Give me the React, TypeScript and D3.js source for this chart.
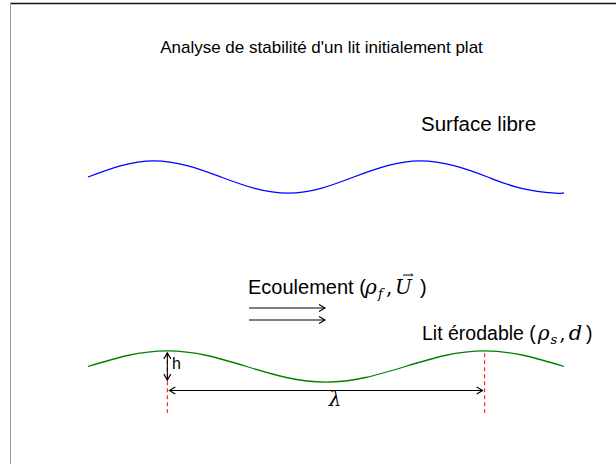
import React from "react";
import * as d3 from "d3";

const W = 616;
const H = 464;

// Free surface (blue) — x in abstract units, y elevation
const surfaceX = [0, 1.68, 3.3, 5.0, 6.7, 8.4, 10.1, 11.75, 13.4, 15.1, 16.75, 18.45, 20.15, 21.85, 23.55, 24];
const surfaceY = [10, 10.6, 10.85, 10.6, 10, 9.4, 9.15, 9.4, 10, 10.6, 10.85, 10.6, 10, 9.4, 9.15, 9.16];

// Erodible bed (green)
const bedX = [0, 2, 4, 6, 8, 10, 12, 14, 16, 18, 20, 22, 24];
const bedY = [0, 0.58, 0.82, 0.58, 0, -0.58, -0.82, -0.58, 0, 0.58, 0.82, 0.58, 0];

// annotations
const crestX = [4, 20];
const hRange = [0.72, -0.72];
const dashBottom = -2.45;
const lambdaY = -1.27;
const flowArrowsY = [3.09, 2.45];
const flowArrowX = [8.12, 11.95];

const TITLE = "Analyse de stabilité d'un lit initialement plat";

export default function App() {
  const x = d3.scaleLinear().domain([0, 24]).range([88, 564]);
  const y = d3.scaleLinear().domain([0, 10]).range([366.5, 177]);

  const line = d3
    .line<[number, number]>()
    .x((d) => x(d[0]))
    .y((d) => y(d[1]))
    .curve(d3.curveNatural);

  const surface = surfaceX.map((v, i) => [v, surfaceY[i]] as [number, number]);
  const bed = bedX.map((v, i) => [v, bedY[i]] as [number, number]);

  const sans = "'Liberation Sans', Arial, sans-serif";
  const serif = "'DejaVu Serif', 'Liberation Serif', serif";
  const mathSize = 20;

  return (
    <svg
      width={W}
      height={H}
      style={{ position: "absolute", left: 0, top: 0, background: "#fff" }}
    >
      <defs>
        <marker id="ah" viewBox="-8 -5 10 10" refX="0" refY="0" markerWidth="10" markerHeight="10" markerUnits="userSpaceOnUse" orient="auto-start-reverse">
          <path d="M-6,-3.5 L0,0 L-6,3.5" fill="none" stroke="#000" strokeWidth={1.1} />
        </marker>
        <marker id="ahs" viewBox="-8 -5 10 10" refX="0" refY="0" markerWidth="6" markerHeight="6" markerUnits="userSpaceOnUse" orient="auto">
          <path d="M-3.5,-2.2 L0,0 L-3.5,2.2" fill="none" stroke="#000" strokeWidth={1} />
        </marker>
      </defs>
      {/* frame */}
      <line x1={10} x2={W} y1={3.5} y2={3.5} stroke="#111" strokeWidth={1.3} />
      <line x1={10.5} x2={10.5} y1={3} y2={H} stroke="#999" strokeWidth={1} />

      <text x={321.5} y={52.5} textAnchor="middle" fontFamily={sans} fontSize={17} fill="#000">
        {TITLE}
      </text>

      <path d={line(surface) || ""} fill="none" stroke="#0000ff" strokeWidth={1.3} />
      <path d={line(bed) || ""} fill="none" stroke="#008000" strokeWidth={1.3} />

      <text x={421} y={131} fontFamily={sans} fontSize={20.5} fill="#000">
        Surface libre
      </text>

      {/* Ecoulement (rho_f, U) */}
      <g fill="#000">
        <text x={248} y={294} fontFamily={sans} fontSize={20}>Ecoulement (</text>
        <text x={365} y={294} fontFamily={serif} fontStyle="italic" fontSize={mathSize}>ρ</text>
        <text x={378} y={298} fontFamily={serif} fontStyle="italic" fontSize={13}>f</text>
        <text x={386} y={294} fontFamily={serif} fontSize={mathSize}>,</text>
        <text x={395} y={294} fontFamily={serif} fontStyle="italic" fontSize={mathSize}>U</text>
        <line x1={403} x2={413} y1={275} y2={275} stroke="#000" strokeWidth={1} markerEnd="url(#ahs)" />
        <text x={420} y={294} fontFamily={sans} fontSize={20}>)</text>
      </g>

      {flowArrowsY.map((fy, i) => (
        <line key={i} x1={x(flowArrowX[0])} x2={x(flowArrowX[1])} y1={y(fy)} y2={y(fy)} stroke="#000" strokeWidth={1.1} markerEnd="url(#ah)" />
      ))}

      {/* Lit erodable (rho_s, d) */}
      <text x={422} y={340} fontFamily={sans} fontSize={19.5} fill="#000">
        Lit érodable (
        <tspan fontFamily={serif} fontStyle="italic" fontSize={mathSize} dx={2}>ρ</tspan>
        <tspan fontFamily={serif} fontStyle="italic" fontSize={13} dy={4} dx={1}>s</tspan>
        <tspan fontFamily={serif} fontSize={mathSize} dy={-4} dx={2}>,</tspan>
        <tspan fontFamily={serif} fontStyle="italic" fontSize={21} dx={3}>d</tspan>
        <tspan dx={4}>)</tspan>
      </text>

      {crestX.map((cx, i) => (
        <line key={i} x1={x(cx)} x2={x(cx)} y1={y(0.7)} y2={y(dashBottom)} stroke="#ff0000" strokeWidth={1} strokeDasharray="4,3" />
      ))}

      <line x1={x(crestX[0])} x2={x(crestX[0])} y1={y(hRange[0])} y2={y(hRange[1])} stroke="#000" strokeWidth={1.1} markerStart="url(#ah)" markerEnd="url(#ah)" />
      <text x={172} y={369} fontFamily={sans} fontSize={16} fill="#000">h</text>

      <line x1={x(crestX[0]) + 2} x2={x(crestX[1]) - 2} y1={y(lambdaY)} y2={y(lambdaY)} stroke="#000" strokeWidth={1.1} markerStart="url(#ah)" markerEnd="url(#ah)" />
      <text x={335} y={406} textAnchor="middle" fontFamily={serif} fontStyle="italic" fontSize={20} fill="#000">λ</text>
    </svg>
  );
}
